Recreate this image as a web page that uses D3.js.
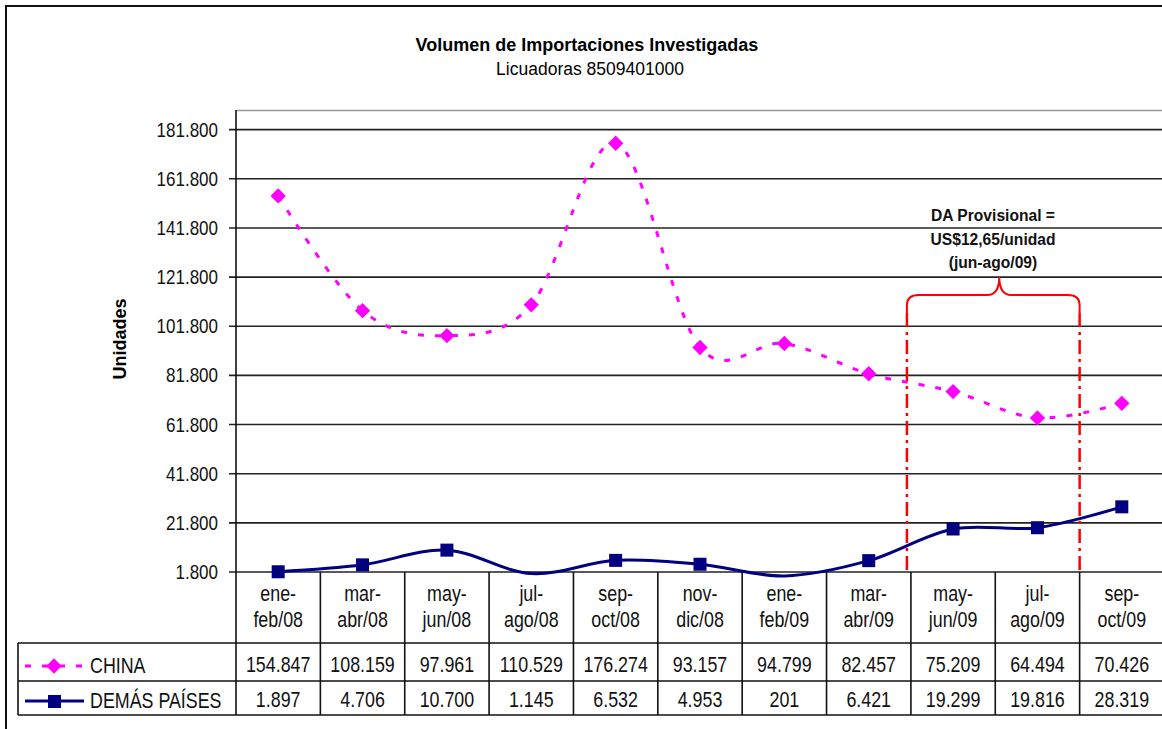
<!DOCTYPE html>
<html>
<head>
<meta charset="utf-8">
<script src="https://cdn.jsdelivr.net/npm/d3@7"></script>
<style>
  body { margin: 0; background: #fff; }
  svg { display: block; font-family: "Liberation Sans", Arial, sans-serif; }
</style>
</head>
<body>
<svg></svg>
<script>
let width = 1162, height = 729;

// data
const categories = ["ene-feb/08", "mar-abr/08", "may-jun/08", "jul-ago/08", "sep-oct/08", "nov-dic/08",
    "ene-feb/09", "mar-abr/09", "may-jun/09", "jul-ago/09", "sep-oct/09"];
const china = [154847, 108159, 97961, 110529, 176274, 93157, 94799, 82457, 75209, 64494, 70426];
const demas = [1897, 4706, 10700, 1145, 6532, 4953, 201, 6421, 19299, 19816, 28319];
const seriesNames = ["CHINA", "DEMÁS PAÍSES"];
const yTicks = [1800, 21800, 41800, 61800, 81800, 101800, 121800, 141800, 161800, 181800];
const noteLines = ["DA Provisional =", "US$12,65/unidad", "(jun-ago/09)"];

let svg = d3.select("svg")
    .attr("width", width)
    .attr("height", height)

const loc = d3.formatLocale({ decimal: ",", thousands: ".", grouping: [3], currency: ["$", ""] });
const fmt = loc.format(",d");

const plotL = 236, plotR = 1164, plotT = 110, plotB = 572;
const NARROW = 0.83;   // the original uses a condensed face

let x = d3.scaleBand().domain(categories).range([plotL, plotR]);
let y = d3.scaleLinear().domain([1800, 189800]).range([plotB, plotT]);
const cx = d => x(d) + x.bandwidth() / 2;

// outer border
svg.append("path")
    .attr("d", "M6," + height + " V6 H" + width)
    .attr("fill", "none").attr("stroke", "#111").attr("stroke-width", 2);

// titles
svg.append("text").attr("x", 587).attr("y", 51).attr("text-anchor", "middle")
    .attr("font-size", "18px").attr("font-weight", "bold").text("Volumen de Importaciones Investigadas");
svg.append("text").attr("x", 590).attr("y", 75).attr("text-anchor", "middle")
    .attr("font-size", "17.5px").text("Licuadoras 8509401000");

// y label
svg.append("text")
    .attr("transform", "translate(126,339) rotate(-90)")
    .attr("text-anchor", "middle").attr("font-size", "18px").attr("font-weight", "bold")
    .text("Unidades");

// plot top border
svg.append("line").attr("x1", plotL).attr("x2", plotR).attr("y1", plotT + 0.5).attr("y2", plotT + 0.5)
    .attr("stroke", "#999").attr("stroke-width", 1.5);

// gridlines
svg.append("g").selectAll("line").data(yTicks).enter().append("line")
    .attr("x1", plotL - 7).attr("x2", plotR)
    .attr("y1", d => y(d)).attr("y2", d => y(d))
    .attr("stroke", "#222").attr("stroke-width", 1.6);

svg.append("g").selectAll("text").data(yTicks).enter().append("text")
    .attr("transform", d => "translate(218," + (y(d) + 7) + ") scale(0.85,1)")
    .attr("text-anchor", "end").attr("font-size", "20px").attr("fill", "#111")
    .text(d => fmt(d));

// left axis
svg.append("line").attr("x1", plotL).attr("x2", plotL).attr("y1", plotT).attr("y2", 715)
    .attr("stroke", "#111").attr("stroke-width", 1.6);

// data table lines
const rowLines = [643, 681, 715];
svg.append("g").selectAll("line").data(rowLines).enter().append("line")
    .attr("x1", 18).attr("x2", plotR).attr("y1", d => d).attr("y2", d => d)
    .attr("stroke", "#111").attr("stroke-width", 1.6);
svg.append("line").attr("x1", 18).attr("x2", 18).attr("y1", 643).attr("y2", 715)
    .attr("stroke", "#111").attr("stroke-width", 1.6);
svg.append("g").selectAll("line").data(categories.slice(1)).enter().append("line")
    .attr("x1", d => x(d)).attr("x2", d => x(d)).attr("y1", plotB).attr("y2", 715)
    .attr("stroke", "#111").attr("stroke-width", 1.6);

// category labels (two lines)
let catG = svg.append("g").selectAll("text").data(categories).enter().append("text")
    .attr("transform", d => "translate(" + cx(d) + ",0) scale(" + NARROW + ",1)")
    .attr("text-anchor", "middle").attr("font-size", "21.5px").attr("fill", "#111");
catG.append("tspan").attr("x", 0).attr("y", 601).text(d => d.split("-")[0] + "-");
catG.append("tspan").attr("x", 0).attr("y", 627).text(d => d.split("-")[1]);

// table values
[china, demas].forEach((vals, r) => {
    svg.append("g").selectAll("text").data(vals).enter().append("text")
        .attr("transform", (d, i) => "translate(" + cx(categories[i]) + "," + (r === 0 ? 672 : 707) +
            ") scale(" + NARROW + ",1)")
        .attr("text-anchor", "middle").attr("font-size", "21.5px").attr("fill", "#111")
        .text(d => fmt(d));
});

// legend
svg.append("line").attr("x1", 25).attr("x2", 82).attr("y1", 666).attr("y2", 666)
    .attr("stroke", "#FF00FF").attr("stroke-width", 3).attr("stroke-dasharray", "6,11");
svg.append("path").attr("d", d3.symbol(d3.symbolDiamond2, 150)()).attr("transform", "translate(54,666)")
    .attr("fill", "#FF00FF");
svg.append("line").attr("x1", 25).attr("x2", 84).attr("y1", 701).attr("y2", 701)
    .attr("stroke", "#000080").attr("stroke-width", 3);
svg.append("rect").attr("x", 48).attr("y", 695).attr("width", 13).attr("height", 13).attr("fill", "#000080");
svg.append("g").selectAll("text").data(seriesNames).enter().append("text")
    .attr("transform", (d, i) => "translate(90," + (i === 0 ? 673 : 708) + ") scale(" + NARROW + ",1)")
    .attr("font-size", "21.5px").attr("fill", "#111").text(d => d);

// lines
const line = d3.line().curve(d3.curveCardinal.tension(0))
    .x((d, i) => cx(categories[i])).y(d => y(d));

svg.append("path").datum(demas).attr("d", line)
    .attr("fill", "none").attr("stroke", "#000080").attr("stroke-width", 3);
svg.append("path").datum(china).attr("d", line)
    .attr("fill", "none").attr("stroke", "#FF00FF").attr("stroke-width", 3).attr("stroke-dasharray", "6,11");

// markers below the axis minimum are not shown (as in the original)
const yMin = y.domain()[0];
svg.append("g").selectAll("rect").data(demas.map((v, i) => ({ v, c: categories[i] })).filter(d => d.v >= yMin))
    .enter().append("rect")
    .attr("x", d => cx(d.c) - 6.5).attr("y", d => y(d.v) - 6.5)
    .attr("width", 13).attr("height", 13).attr("fill", "#000080");
svg.append("g").selectAll("path").data(china).enter().append("path")
    .attr("d", d3.symbol(d3.symbolDiamond2, 150)())
    .attr("transform", (d, i) => "translate(" + cx(categories[i]) + "," + y(d) + ")")
    .attr("fill", "#FF00FF");

// annotation: DA provisional period
const xa = x("may-jun/09") - 4, xb = x("sep-oct/09");
const xm = (xa + xb) / 2 + 6;
svg.append("g").selectAll("line").data([xa, xb]).enter().append("line")
    .attr("x1", d => d).attr("x2", d => d).attr("y1", 313).attr("y2", plotB)
    .attr("stroke", "#FF0000").attr("stroke-width", 2.5).attr("stroke-dasharray", "14,5,3,5");
svg.append("path")
    .attr("d", "M" + xa + ",313 V305 Q" + xa + ",295 " + (xa + 12) + ",295 H" + (xm - 12) +
        " Q" + xm + ",295 " + xm + ",277 Q" + xm + ",295 " + (xm + 12) + ",295 H" + (xb - 12) +
        " Q" + xb + ",295 " + xb + ",305 V313")
    .attr("fill", "none").attr("stroke", "#FF0000").attr("stroke-width", 2);
svg.append("g").selectAll("text").data(noteLines).enter().append("text")
    .attr("transform", (d, i) => "translate(993," + (221 + i * 23.5) + ") scale(0.93,1)")
    .attr("text-anchor", "middle").attr("font-size", "16.8px").attr("font-weight", "bold").attr("fill", "#111")
    .text(d => d);
</script>
</body>
</html>
